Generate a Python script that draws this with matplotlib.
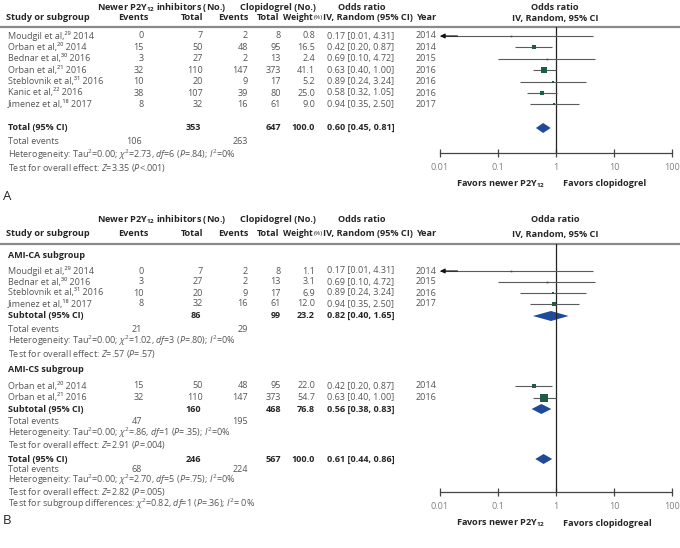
import matplotlib.pyplot as plt
import numpy as np

plt.rcParams['font.family'] = ['Open Sans', 'DejaVu Sans']
plt.rcParams['mathtext.fontset'] = 'custom'
plt.rcParams['mathtext.rm'] = 'Open Sans'
plt.rcParams['mathtext.it'] = 'Open Sans:italic'
plt.rcParams['mathtext.bf'] = 'Open Sans:bold'

# ---- Panel A data (all studies)
names_a = ["Moudgil et al,²⁹ 2014", "Orban et al,²⁰ 2014", "Bednar et al,³⁰ 2016",
           "Orban et al,²¹ 2016", "Steblovnik et al,³¹ 2016", "Kanic et al,²² 2016",
           "Jimenez et al,¹⁸ 2017"]
ev_new_a = [0, 15, 3, 32, 10, 38, 8]
tot_new_a = [7, 50, 27, 110, 20, 107, 32]
ev_clo_a = [2, 48, 2, 147, 9, 39, 16]
tot_clo_a = [8, 95, 13, 373, 17, 80, 61]
weight_a = [0.8, 16.5, 2.4, 41.1, 5.2, 25.0, 9.0]
or_a = [0.17, 0.42, 0.69, 0.63, 0.89, 0.58, 0.94]
lo_a = [0.01, 0.20, 0.10, 0.40, 0.24, 0.32, 0.35]
hi_a = [4.31, 0.87, 4.72, 1.00, 3.24, 1.05, 2.50]
year_a = [2014, 2014, 2015, 2016, 2016, 2016, 2017]
total_a = dict(n_new=353, n_clo=647, ev_new=106, ev_clo=263, w=100.0, est=0.60, lo=0.45, hi=0.81)

# ---- Panel B data (subgroups)
names_ca = ["Moudgil et al,²⁹ 2014", "Bednar et al,³⁰ 2016",
            "Steblovnik et al,³¹ 2016", "Jimenez et al,¹⁸ 2017"]
ev_new_ca = [0, 3, 10, 8]
tot_new_ca = [7, 27, 20, 32]
ev_clo_ca = [2, 2, 9, 16]
tot_clo_ca = [8, 13, 17, 61]
weight_ca = [1.1, 3.1, 6.9, 12.0]
or_ca = [0.17, 0.69, 0.89, 0.94]
lo_ca = [0.01, 0.10, 0.24, 0.35]
hi_ca = [4.31, 4.72, 3.24, 2.50]
year_ca = [2014, 2015, 2016, 2017]
sub_ca = dict(n_new=86, n_clo=99, ev_new=21, ev_clo=29, w=23.2, est=0.82, lo=0.40, hi=1.65)

names_cs = ["Orban et al,²⁰ 2014", "Orban et al,²¹ 2016"]
ev_new_cs = [15, 32]
tot_new_cs = [50, 110]
ev_clo_cs = [48, 147]
tot_clo_cs = [95, 373]
weight_cs = [22.0, 54.7]
or_cs = [0.42, 0.63]
lo_cs = [0.20, 0.40]
hi_cs = [0.87, 1.00]
year_cs = [2014, 2016]
sub_cs = dict(n_new=160, n_clo=468, ev_new=47, ev_clo=195, w=76.8, est=0.56, lo=0.38, hi=0.83)

total_b = dict(n_new=246, n_clo=567, ev_new=68, ev_clo=224, w=100.0, est=0.61, lo=0.44, hi=0.86)

ticks = [0.01, 0.1, 1, 10, 100]
tick_labels = ['0.01', '0.1', '1', '10', '100']

W, H = 680, 548
FS = 6.5
HS = 6.6
GREY = '#555555'
DARK = '#262626'
SQ = '#1d5c46'
DIA = '#1f4a9c'

fig = plt.figure(figsize=(W / 100, H / 100), dpi=100)
ax = fig.add_axes([0, 0, 1, 1])
ax.set_xlim(0, W)
ax.set_ylim(H, 0)
ax.axis('off')

# column x positions (pixels)
X_NAME, X_EVN, X_TOTN, X_EVC, X_TOTC, X_W, X_CI, X_YEAR = 8, 144, 203, 248, 281, 315, 327, 416
FX0, FX1 = 440, 672


def t(x, y, s, ha='left', bold=False, color=GREY, size=FS):
    return ax.text(x, y, s, ha=ha, va='center', fontsize=size, color=color,
                   fontweight='bold' if bold else 'normal')


def header(y1, y2, yline, ratio_title):
    t(97, y1, r"Newer P2Y$_{\mathbf{12}}$ inhibitors (No.)", bold=True, color=DARK, size=HS)
    t(240, y1, "Clopidogrel (No.)", bold=True, color=DARK, size=HS)
    t(362, y1, "Odds ratio", ha='center', bold=True, color=DARK, size=HS)
    t(X_NAME - 2, y2, "Study or subgroup", bold=True, color=DARK, size=HS)
    t(133, y2, "Events", ha='center', bold=True, color=DARK, size=HS)
    t(X_TOTN, y2, "Total", ha='right', bold=True, color=DARK, size=HS)
    t(233, y2, "Events", ha='center', bold=True, color=DARK, size=HS)
    t(X_TOTC - 2, y2, "Total", ha='right', bold=True, color=DARK, size=HS)
    wt = t(283, y2, "Weight", bold=True, color=DARK, size=6.1)
    ax.annotate("(%)", xy=(1, 0.5), xycoords=wt, xytext=(1, 0), textcoords='offset points',
                va='center', ha='left', fontsize=4.6, color=DARK)
    t(323, y2, "IV, Random (95% CI)", bold=True, color=DARK, size=HS)
    t(X_YEAR, y2, "Year", bold=True, color=DARK, size=HS)
    t(555, y1, ratio_title, ha='center', bold=True, color=DARK, size=HS)
    t(555, y2, "IV, Random, 95% CI", ha='center', bold=True, color=DARK, size=HS)
    ax.plot([0, W], [yline, yline], color='#8a8a8a', lw=1.6)


def make_forest(top, bottom, right_label):
    fax = fig.add_axes([FX0 / W, 1 - bottom / H, (FX1 - FX0) / W, (bottom - top) / H])
    fax.patch.set_alpha(0)
    fax.set_xscale('log')
    fax.set_xlim(0.01, 100)
    fax.set_ylim(bottom, top)
    for s in ['top', 'left', 'right']:
        fax.spines[s].set_visible(False)
    fax.spines['bottom'].set_color('#444444')
    fax.spines['bottom'].set_linewidth(0.9)
    fax.set_yticks([])
    fax.set_xticks(ticks)
    fax.set_xticklabels(tick_labels)
    fax.minorticks_off()
    fax.tick_params(axis='x', direction='inout', length=6, width=0.9, color='#444444',
                    labelsize=FS, labelcolor='#808080', pad=4)
    fax.axvline(1, color='#222222', lw=0.9)
    ylab = bottom + 31
    t(545, ylab, r"Favors newer P2Y$_{\mathbf{12}}$", ha='right', bold=True, color=DARK, size=HS)
    t(563, ylab, right_label, bold=True, color=DARK, size=HS)
    return fax


def study_rows(fax, ys, names, evn, totn, evc, totc, w, est, lo, hi, yr):
    for i, y in enumerate(ys):
        t(X_NAME, y, names[i])
        t(X_EVN, y, str(evn[i]), ha='right')
        t(X_TOTN, y, str(totn[i]), ha='right')
        t(X_EVC, y, str(evc[i]), ha='right')
        t(X_TOTC, y, str(totc[i]), ha='right')
        t(X_W, y, f"{w[i]:.1f}", ha='right')
        t(X_CI, y, f"{est[i]:.2f} [{lo[i]:.2f}, {hi[i]:.2f}]")
        t(X_YEAR, y, str(yr[i]))
        left = max(lo[i], 0.01)
        fax.plot([left, hi[i]], [y, y], color='#5a5a5a', lw=0.8, solid_capstyle='butt')
        if lo[i] <= 0.01:
            fax.annotate('', xy=(0.01, y), xytext=(0.02, y),
                         arrowprops=dict(arrowstyle='-|>', color='#111111', lw=0.8,
                                         mutation_scale=7, shrinkA=0, shrinkB=0))
        side = max(np.sqrt(w[i]) * 0.95, 1.6) * 0.72
        fax.plot(est[i], y, 's', color=SQ, ms=side, mec=SQ, mew=0)


def pooled(fax, y, d, label, y_events):
    t(X_NAME, y, label, bold=True, color=DARK)
    t(X_TOTN - 2, y, str(d['n_new']), ha='right', bold=True, color=DARK)
    t(X_TOTC, y, str(d['n_clo']), ha='right', bold=True, color=DARK)
    t(X_W, y, f"{d['w']:.1f}", ha='right', bold=True, color=DARK)
    t(X_CI, y, f"{d['est']:.2f} [{d['lo']:.2f}, {d['hi']:.2f}]", bold=True, color=DARK)
    fax.fill([d['lo'], d['est'], d['hi'], d['est']], [y, y - 5, y, y + 5], color=DIA, lw=0)
    t(X_NAME, y_events, "Total events")
    t(X_EVN - 2, y_events, str(d['ev_new']), ha='right')
    t(X_EVC, y_events, str(d['ev_clo']), ha='right')


# ================= Panel A =================
header(7, 18, 27, "Odds ratio")
fa = make_forest(27, 153, "Favors clopidogrel")
ys_a = [36 + 11.4 * i for i in range(len(names_a))]
study_rows(fa, ys_a, names_a, ev_new_a, tot_new_a, ev_clo_a, tot_clo_a,
           weight_a, or_a, lo_a, hi_a, year_a)
pooled(fa, 128, total_a, "Total (95% CI)", 142)
t(X_NAME, 155, r"Heterogeneity: Tau$^2$=0.00; $\chi^2$=2.73, $df$=6 ($P$=.84); $I^2$=0%")
t(X_NAME, 168, r"Test for overall effect: $Z$=3.35 ($P$<.001)")
t(3, 196, "A", color=DARK, size=9.5)

# ================= Panel B =================
header(220, 234, 244, "Odda ratio")
fb = make_forest(244, 492, "Favors clopidogreal")
t(X_NAME, 256, "AMI-CA subgroup", bold=True, color=DARK)
ys_ca = [271 + 11 * i for i in range(len(names_ca))]
study_rows(fb, ys_ca, names_ca, ev_new_ca, tot_new_ca, ev_clo_ca, tot_clo_ca,
           weight_ca, or_ca, lo_ca, hi_ca, year_ca)
pooled(fb, 316, sub_ca, "Subtotal (95% CI)", 329)
t(X_NAME, 341, r"Heterogeneity: Tau$^2$=0.00; $\chi^2$=1.02, $df$=3 ($P$=.80); $I^2$=0%")
t(X_NAME, 354, r"Test for overall effect: $Z$=.57 ($P$=.57)")

t(X_NAME, 370, "AMI-CS subgroup", bold=True, color=DARK)
ys_cs = [386 + 11.5 * i for i in range(len(names_cs))]
study_rows(fb, ys_cs, names_cs, ev_new_cs, tot_new_cs, ev_clo_cs, tot_clo_cs,
           weight_cs, or_cs, lo_cs, hi_cs, year_cs)
pooled(fb, 409, sub_cs, "Subtotal (95% CI)", 421.5)
t(X_NAME, 433, r"Heterogeneity: Tau$^2$=0.00; $\chi^2$=.86, $df$=1 ($P$=.35); $I^2$=0%")
t(X_NAME, 445, r"Test for overall effect: $Z$=2.91 ($P$=.004)")

pooled(fb, 459, total_b, "Total (95% CI)", 469.5)
t(X_NAME, 480, r"Heterogeneity: Tau$^2$=0.00; $\chi^2$=2.70, $df$=5 ($P$=.75); $I^2$=0%")
t(X_NAME, 492, r"Test for overall effect: $Z$=2.82 ($P$=.005)")
t(X_NAME, 504, r"Test for subgroup differences: $\chi^2$=0.82, $df$=1 ($P$=.36); $I^2$= 0%")
t(3, 521, "B", color=DARK, size=9.5)

fig.savefig('out.png', dpi=100)
